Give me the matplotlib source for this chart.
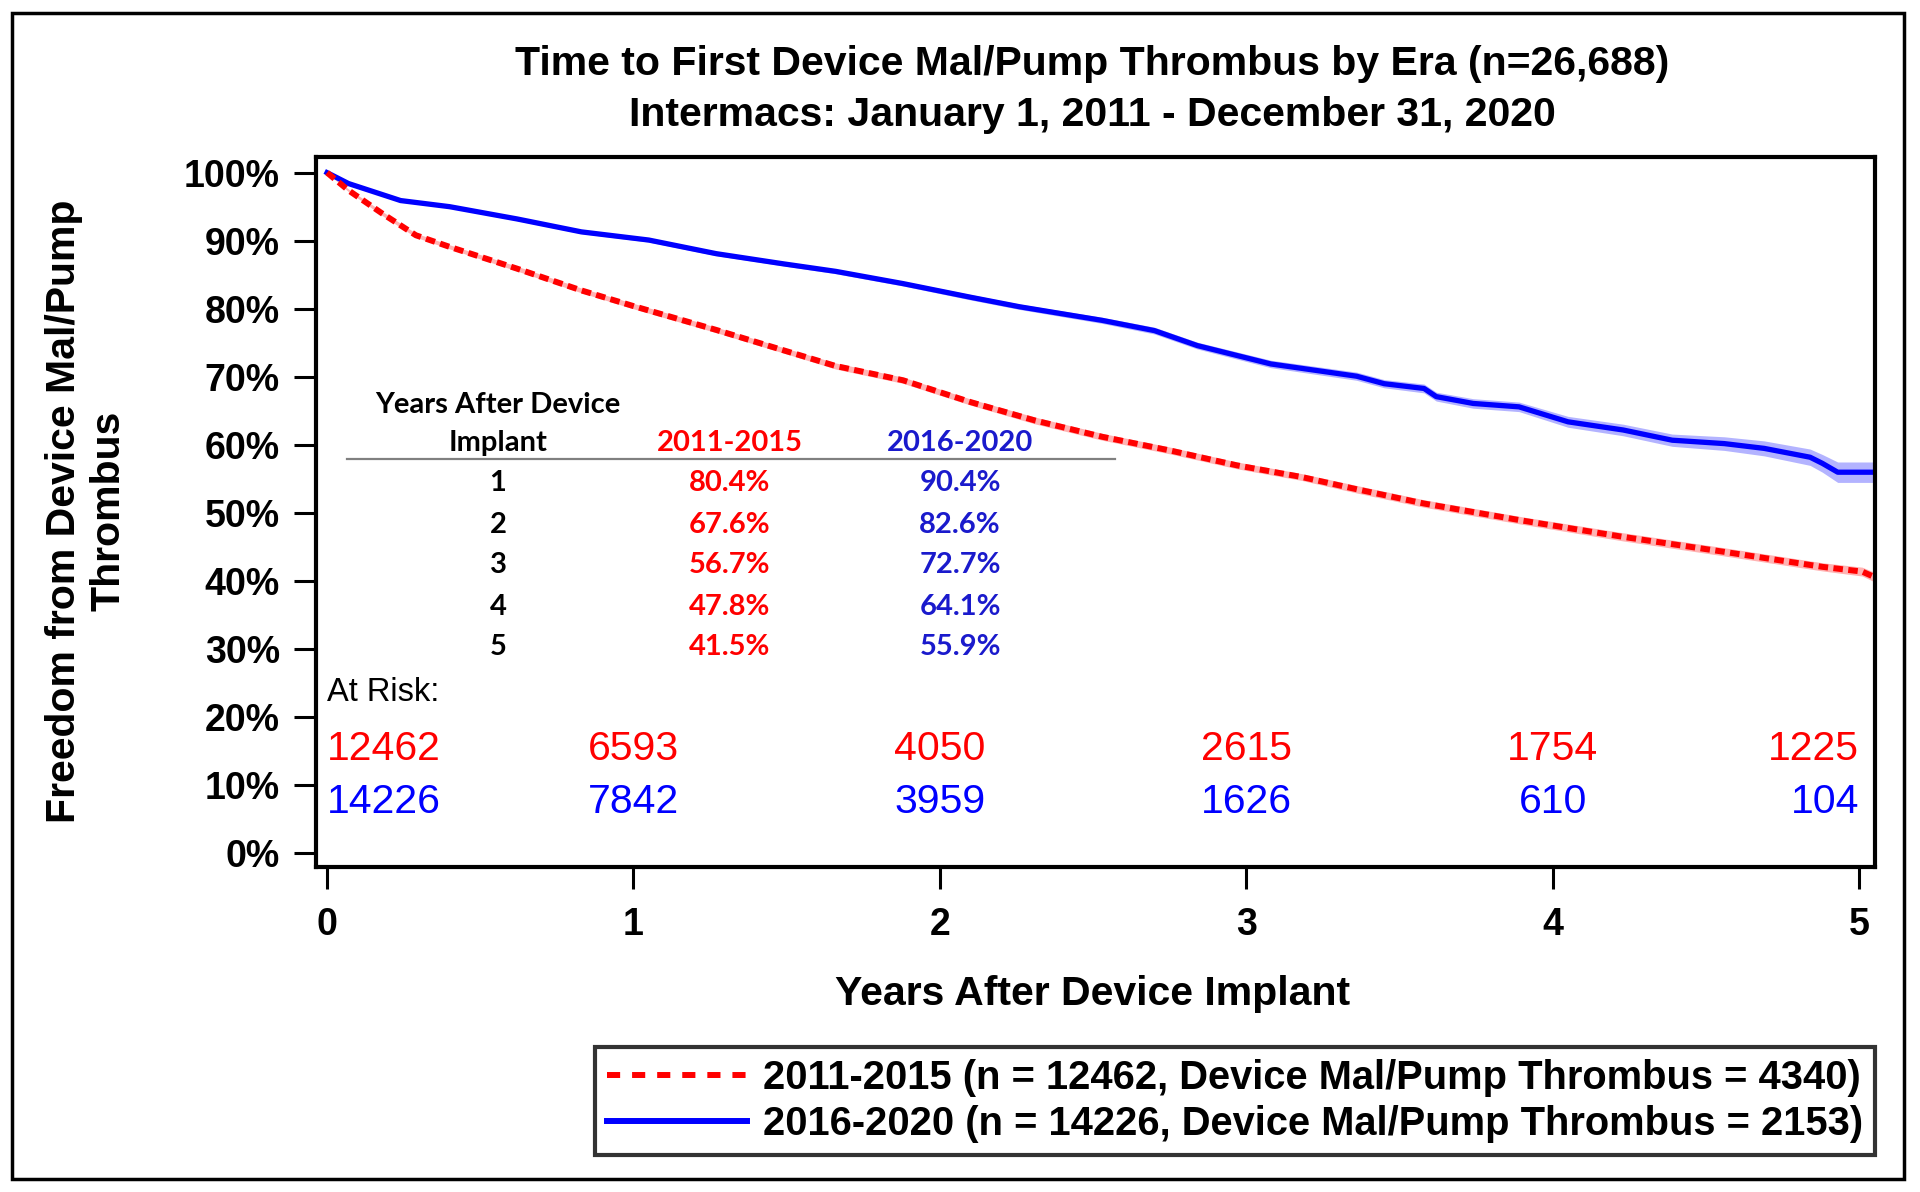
import matplotlib.pyplot as plt
from matplotlib.patches import Rectangle
from matplotlib.ticker import FuncFormatter

plt.rcParams['font.family'] = ['Liberation Sans', 'DejaVu Sans']

# Kaplan-Meier curves (years, % free of event)
years_early = [0, 0.07, 0.18, 0.29, 0.40, 0.62, 0.83, 1.0, 1.27, 1.49,
               1.66, 1.88, 2.1, 2.31, 2.53, 2.75, 2.97, 3.18, 3.36, 3.58,
               3.9, 4.23, 4.56, 4.88, 5.01, 5.05]
surv_early = [100, 97.4, 94.0, 90.8, 89.1, 85.9, 82.7, 80.4, 76.9, 73.9,
              71.6, 69.5, 66.3, 63.6, 61.2, 59.2, 57.0, 55.3, 53.5, 51.4,
              48.9, 46.5, 44.3, 42.1, 41.4, 40.6]
ci_early = [0, 0.2, 0.3, 0.3, 0.3, 0.35, 0.35, 0.4, 0.4, 0.4,
            0.45, 0.45, 0.45, 0.5, 0.5, 0.5, 0.5, 0.5, 0.55, 0.55,
            0.55, 0.6, 0.6, 0.6, 0.65, 0.7]

years_late = [0, 0.07, 0.24, 0.40, 0.62, 0.83, 1.05, 1.27, 1.49, 1.66,
              1.88, 2.1, 2.26, 2.53, 2.7, 2.84, 3.08, 3.36, 3.45, 3.58,
              3.62, 3.74, 3.89, 4.05, 4.23, 4.39, 4.56, 4.69, 4.84, 4.88,
              4.93, 5.05]
surv_late = [100, 98.4, 95.9, 95.0, 93.2, 91.3, 90.1, 88.1, 86.6, 85.5,
             83.7, 81.7, 80.3, 78.3, 76.8, 74.6, 71.9, 70.1, 69.0, 68.3,
             67.1, 66.1, 65.6, 63.4, 62.2, 60.7, 60.2, 59.5, 58.2, 57.3,
             56.0, 56.0]
ci_late = [0, 0.15, 0.2, 0.2, 0.25, 0.25, 0.3, 0.3, 0.3, 0.35,
           0.35, 0.4, 0.4, 0.45, 0.5, 0.5, 0.55, 0.6, 0.6, 0.65,
           0.65, 0.7, 0.7, 0.8, 0.85, 0.9, 1.0, 1.1, 1.2, 1.3,
           1.5, 1.5]

# inset table
table_years = ['1', '2', '3', '4', '5']
table_early = ['80.4%', '67.6%', '56.7%', '47.8%', '41.5%']
table_late = ['90.4%', '82.6%', '72.7%', '64.1%', '55.9%']

# numbers at risk
risk_times = [0, 1, 2, 3, 4, 5]
risk_early = [12462, 6593, 4050, 2615, 1754, 1225]
risk_late = [14226, 7842, 3959, 1626, 610, 104]

red = '#ff0000'
blue = '#0000ff'

fig = plt.figure(figsize=(19.2, 11.92), dpi=100)
ax = fig.add_axes([0.1646, 0.2727, 0.812, 0.5956])

# confidence bands
lo = [s - c for s, c in zip(surv_early, ci_early)]
hi = [s + c for s, c in zip(surv_early, ci_early)]
ax.fill_between(years_early, lo, hi, color='#ffb3b3', lw=0, zorder=1)
lo = [s - c for s, c in zip(surv_late, ci_late)]
hi = [s + c for s, c in zip(surv_late, ci_late)]
ax.fill_between(years_late, lo, hi, color='#b3b3ff', lw=0, zorder=1)

line_early, = ax.plot(years_early, surv_early, color=red, lw=4.3,
                      dashes=(1.6, 0.9), zorder=3,
                      label='2011-2015 (n = 12462, Device Mal/Pump Thrombus = 4340)')
line_late, = ax.plot(years_late, surv_late, color=blue, lw=3.8, zorder=2,
                     label='2016-2020 (n = 14226, Device Mal/Pump Thrombus = 2153)')

ax.set_xlim(-0.036, 5.052)
ax.set_ylim(-1.98, 102.3)
ax.set_xticks(range(6))
ax.set_yticks(range(0, 101, 10))
ax.yaxis.set_major_formatter(FuncFormatter(lambda v, p: f'{int(v)}%'))
ax.tick_params(axis='both', direction='out', length=16, width=2.2,
               labelsize=27)
ax.tick_params(axis='y', pad=10)
ax.tick_params(axis='x', pad=13)
for lab in ax.get_xticklabels() + ax.get_yticklabels():
    lab.set_fontweight('bold')
for sp in ax.spines.values():
    sp.set_linewidth(3)

# inset table
tfont = dict(family=['Lato', 'DejaVu Sans'], fontweight='bold', fontsize=21)
tblue = '#1a1acc'
ax.text(0.558, 65.9, 'Years After Device', ha='center', va='center', **tfont)
ax.text(0.558, 60.3, 'Implant', ha='center', va='center', **tfont)
ax.text(1.315, 60.3, '2011-2015', ha='center', va='center', color=red, **tfont)
ax.text(2.066, 60.3, '2016-2020', ha='center', va='center', color=tblue, **tfont)
ax.plot([0.064, 2.57], [57.9, 57.9], color='#808080', lw=1.6)
row_y = [54.4, 48.3, 42.3, 36.2, 30.3]
for yr, e, l, yy in zip(table_years, table_early, table_late, row_y):
    ax.text(0.558, yy, yr, ha='center', va='center', **tfont)
    ax.text(1.315, yy, e, ha='center', va='center', color=red, **tfont)
    ax.text(2.066, yy, l, ha='center', va='center', color=tblue, **tfont)

# at risk
ax.text(0, 23.7, 'At Risk:', ha='left', va='center', fontsize=23.5)
for i, t in enumerate(risk_times):
    ha = 'left' if i == 0 else ('right' if i == len(risk_times) - 1 else 'center')
    ax.text(t, 15.4, str(risk_early[i]), ha=ha, va='center', color=red, fontsize=29.5)
    ax.text(t, 7.5, str(risk_late[i]), ha=ha, va='center', color=blue, fontsize=29.5)

# titles and labels
fig.text(0.569, 0.9463, 'Time to First Device Mal/Pump Thrombus by Era (n=26,688)',
         ha='center', va='center', fontsize=29.5, fontweight='bold')
fig.text(0.569, 0.9035, 'Intermacs: January 1, 2011 - December 31, 2020',
         ha='center', va='center', fontsize=29.5, fontweight='bold')
fig.text(0.569, 0.166, 'Years After Device Implant', ha='center', va='center',
         fontsize=29.5, fontweight='bold')
fig.text(0.045, 0.571, 'Freedom from Device Mal/Pump\nThrombus', ha='center',
         va='center', rotation=90, fontsize=29.5, fontweight='bold',
         multialignment='center', linespacing=1.2)

# legend with its own handles so the red dashes look like the original key
h_early = plt.Line2D([], [], color=red, lw=4.3, dashes=(2.2, 2.0))
h_late = plt.Line2D([], [], color=blue, lw=4.3)
leg = fig.legend(handles=[h_early, h_late],
                 labels=[line_early.get_label(), line_late.get_label()],
                 loc='upper right',
                 bbox_to_anchor=(0.9766, 0.1216), borderaxespad=0,
                 fancybox=False, edgecolor='black', handlelength=3.5,
                 labelspacing=0.2, borderpad=0.3, handletextpad=0.4,
                 prop={'size': 28.75, 'weight': 'bold'})
leg.get_frame().set_linewidth(3)

# outer frame
fig.patches.append(Rectangle((0.0065, 0.011), 0.985, 0.978, fill=False,
                             lw=2.5, edgecolor='black',
                             transform=fig.transFigure, figure=fig))

fig.savefig('out.png', dpi=100)
